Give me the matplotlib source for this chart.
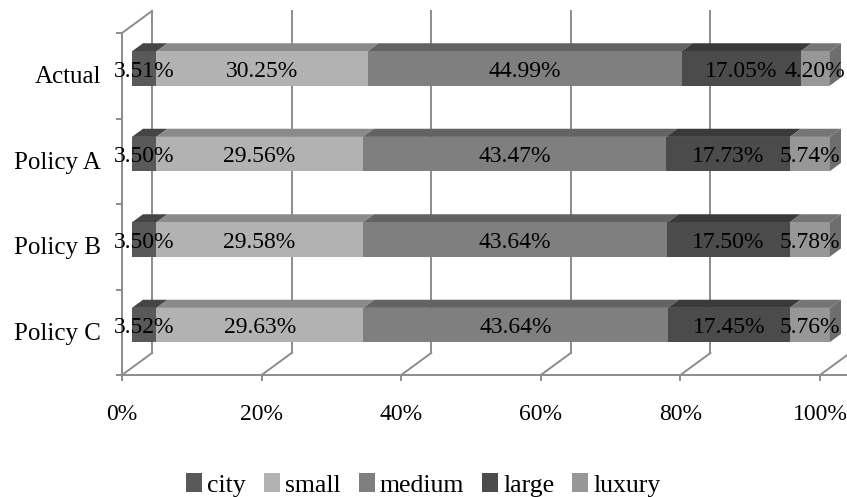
import matplotlib.pyplot as plt
import numpy as np
from matplotlib.patches import Polygon, Patch

plt.rcParams['font.family'] = ['Liberation Serif', 'DejaVu Serif']

categories = ["Actual", "Policy A", "Policy B", "Policy C"]
series = ["city", "small", "medium", "large", "luxury"]
values = {
    "city":   [3.51, 3.50, 3.50, 3.52],
    "small":  [30.25, 29.56, 29.58, 29.63],
    "medium": [44.99, 43.47, 43.64, 43.64],
    "large":  [17.05, 17.73, 17.50, 17.45],
    "luxury": [4.20, 5.74, 5.78, 5.76],
}
xticks = [0, 20, 40, 60, 80, 100]

front = {"city": "#595959", "small": "#b2b2b2", "medium": "#7f7f7f",
         "large": "#4b4b4b", "luxury": "#979797"}
top = {"city": "#454545", "small": "#8a8a8a", "medium": "#636363",
       "large": "#3a3a3a", "luxury": "#757575"}
side = "#6e6e6e"
grid = "#8c8c8c"

W, H = 847, 497
fig = plt.figure(figsize=(W / 100, H / 100), dpi=100)
ax = fig.add_axes([122 / W, 122 / H, 698 / W, 342 / H])
ax.set_xlim(0, 100)
ax.set_ylim(0, len(categories))
ax.axis("off")

# depth of the box in data units
DX = 30 / 6.98
DY = 22 / 85.5
d0, d1 = 0.33, 0.70
bh = 0.40


def proj(x, y, d):
    return (x + DX * d, y + DY * d)


n = len(categories)
lw = 1.4
kw = dict(color=grid, lw=lw, clip_on=False, zorder=1)

# left wall
ax.plot([0, 0], [0, n], **kw)
ax.plot([0, DX], [n, n + DY], **kw)
ax.plot([DX, DX], [DY, n + DY], **kw)
for k in range(n + 1):
    ax.plot([-0.7, 0], [k, k], **kw)

# floor and back wall
ax.plot([0, 100 + DX * 0.9], [0, 0], **kw)
for t in xticks:
    ax.plot([t, t + DX], [0, DY], **kw)
    ax.plot([t, t], [0, -0.06], **kw)
    if t > 0:
        ax.plot([t + DX, t + DX], [DY, n + DY], **kw)
    ax.text(t, -0.46, f"{t}%", ha="center", va="center", fontsize=17)

for i, cat in enumerate(categories):
    yc = n - 0.5 - i
    ax.text(-3.0, yc - 0.02, cat, ha="right", va="center", fontsize=18)
    yb, yt = yc - bh / 2, yc + bh / 2
    left = 0.0
    for j, s in enumerate(series):
        v = values[s][i]
        x0, x1 = left, left + v
        ax.add_patch(Polygon([proj(x0, yt, d0), proj(x1, yt, d0),
                              proj(x1, yt, d1), proj(x0, yt, d1)],
                             closed=True, fc=top[s], ec="none",
                             clip_on=False, zorder=3))
        ax.add_patch(Polygon([proj(x0, yb, d0), proj(x1, yb, d0),
                              proj(x1, yt, d0), proj(x0, yt, d0)],
                             closed=True, fc=front[s], ec="none",
                             clip_on=False, zorder=3))
        if j == len(series) - 1:
            ax.add_patch(Polygon([proj(x1, yb, d0), proj(x1, yt, d0),
                                  proj(x1, yt, d1), proj(x1, yb, d1)],
                                 closed=True, fc=side, ec="none",
                                 clip_on=False, zorder=3))
        cx, cy = proj((x0 + x1) / 2, yc, d0)
        ax.text(cx, cy - 0.03, f"{v:.2f}%", ha="center", va="center",
                fontsize=17, zorder=5)
        left = x1

handles = [Patch(fc=front[s], ec="none") for s in series]
fig.legend(handles, series, loc="center", ncol=5, frameon=False,
           bbox_to_anchor=(0.5, 12 / H), fontsize=18.5, handlelength=0.62,
           handleheight=0.75, handletextpad=0.2, columnspacing=0.7)

fig.savefig("out.png", dpi=100)
